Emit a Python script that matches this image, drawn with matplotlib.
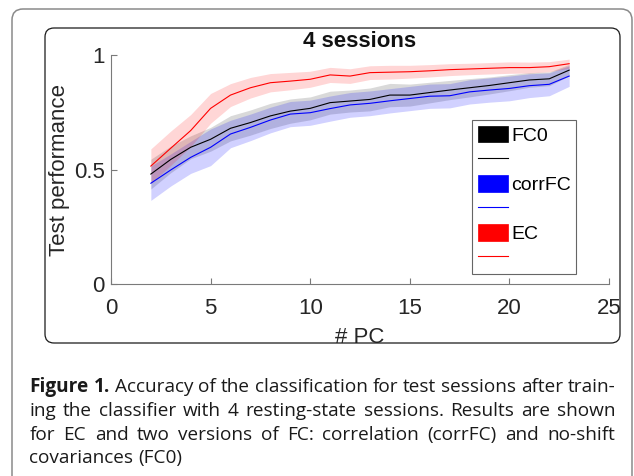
import numpy as np
import matplotlib
matplotlib.use('Agg')
import matplotlib.pyplot as plt
from matplotlib.patches import FancyBboxPatch, Patch
from matplotlib.lines import Line2D
from matplotlib.transforms import IdentityTransform, Bbox

W, H = 634, 476

# number of principal components
pcs = [2, 3, 4, 5, 6, 7, 8, 9, 10, 11, 12, 13, 14, 15, 16, 17, 18, 19, 20, 21, 22, 23]

fc0_mean = [0.480, 0.544, 0.597, 0.632, 0.680, 0.705, 0.734, 0.755, 0.767, 0.792, 0.799,
            0.806, 0.825, 0.825, 0.836, 0.847, 0.857, 0.867, 0.879, 0.891, 0.896, 0.934]
fc0_err = [0.065, 0.058, 0.050, 0.052, 0.055, 0.055, 0.055, 0.053, 0.050, 0.050, 0.048,
           0.050, 0.051, 0.048, 0.045, 0.042, 0.040, 0.037, 0.035, 0.032, 0.030, 0.025]

corr_mean = [0.440, 0.498, 0.553, 0.597, 0.655, 0.684, 0.716, 0.742, 0.748, 0.766, 0.782,
             0.789, 0.800, 0.810, 0.820, 0.822, 0.839, 0.847, 0.854, 0.866, 0.872, 0.908]
corr_err = [0.075, 0.070, 0.070, 0.080, 0.060, 0.058, 0.056, 0.055, 0.055, 0.055, 0.054,
            0.054, 0.053, 0.053, 0.053, 0.053, 0.053, 0.053, 0.054, 0.052, 0.050, 0.045]

ec_mean = [0.515, 0.593, 0.670, 0.767, 0.825, 0.857, 0.879, 0.886, 0.894, 0.913, 0.908,
           0.923, 0.925, 0.927, 0.931, 0.936, 0.939, 0.942, 0.945, 0.945, 0.949, 0.962]
ec_err = [0.075, 0.075, 0.070, 0.065, 0.050, 0.045, 0.040, 0.038, 0.035, 0.033, 0.032,
          0.030, 0.030, 0.028, 0.027, 0.026, 0.025, 0.025, 0.025, 0.024, 0.022, 0.020]

series = [('FC0', fc0_mean, fc0_err, 'k', 0.15),
          ('corrFC', corr_mean, corr_err, 'b', 0.18),
          ('EC', ec_mean, ec_err, 'r', 0.16)]

xticks = [0, 5, 10, 15, 20, 25]
yticks = [0, 0.5, 1]
yticklabels = ['0', '0.5', '1']

cap_bold = 'Figure 1.'
cap_lines = ['Accuracy of the classification for test sessions after train-',
             'ing the classifier with 4 resting-state sessions. Results are shown',
             'for EC and two versions of FC: correlation (corrFC) and no-shift',
             'covariances (FC0)']
cap_font = 'Open Sans'

fig = plt.figure(figsize=(W / 100., H / 100.), dpi=100)


def rbox(x0, y0, x1, y1, r, **kw):
    # pixel coords, origin top left
    p = FancyBboxPatch((x0, H - y1), x1 - x0, y1 - y0,
                       boxstyle='round,pad=0,rounding_size=%g' % r,
                       transform=IdentityTransform(), fill=False, **kw)
    fig.add_artist(p)
    return p


rbox(12, 9, 632, 490, 11, edgecolor='#8a8a8a', linewidth=1.1)
rbox(45, 28, 620, 343, 9, edgecolor='#1a1a1a', linewidth=0.9)

ax = fig.add_axes([111. / W, 1 - 284. / H, 498. / W, 229. / H])

x = np.array(pcs)
for name, m, e, c, a in series:
    m = np.array(m)
    e = np.array(e)
    ax.fill_between(x, m - e, m + e, color=c, alpha=a, linewidth=0)
for name, m, e, c, a in series:
    ax.plot(x, m, color=c, linewidth=0.8)

ax.set_xlim(0, 25)
ax.set_ylim(0, 1)
ax.set_xticks(xticks)
ax.set_xticklabels([str(t) for t in xticks])
ax.set_yticks(yticks)
ax.set_yticklabels(yticklabels)
ax.spines['top'].set_visible(False)
ax.spines['right'].set_visible(False)
for s in ['left', 'bottom']:
    ax.spines[s].set_color('#7a7a7a')
    ax.spines[s].set_linewidth(0.8)
ax.tick_params(direction='in', length=4, width=0.8, color='#7a7a7a',
               labelsize=16, labelcolor='#262626')
ax.tick_params(axis='x', pad=10)
ax.tick_params(axis='y', pad=4.5)
for t in ax.get_xticklabels() + ax.get_yticklabels():
    t.set_fontfamily('Liberation Sans')

ax.set_title('4 sessions', fontsize=16, fontweight='bold', family='Liberation Sans',
             color='#111111', pad=6)
ax.set_xlabel('# PC', fontsize=16, family='Liberation Sans', color='#262626', labelpad=5.5)
ax.set_ylabel('Test performance', fontsize=16, family='Liberation Sans', color='#262626',
              labelpad=2.5)
ax.xaxis.label.set_clip_box(Bbox.from_extents(45, H - 343, 620, H - 28))

handles = []
labels = []
for name, m, e, c, a in series:
    handles.append(Patch(facecolor=c, edgecolor=c, linewidth=0.5))
    labels.append(name)
    handles.append(Line2D([], [], color=c, linewidth=0.8))
    labels.append('')
leg = ax.legend(handles, labels, loc='upper left',
                bbox_to_anchor=(472. / W, 1 - 120. / H), bbox_transform=fig.transFigure,
                borderaxespad=0, prop={'family': 'Liberation Sans', 'size': 14},
                handlelength=1.55, handleheight=0.93, handletextpad=0.15,
                labelspacing=0.29, borderpad=0.3, fancybox=False, framealpha=1)
leg.get_frame().set_edgecolor('#666666')
leg.get_frame().set_linewidth(0.8)

# caption, justified by hand
renderer = fig.canvas.get_renderer()
cap_left, cap_right = 29.5, 615.5
baselines = [392, 416, 440, 463]


def words_of(i):
    ws = [(w, 'normal') for w in cap_lines[i].split()]
    if i == 0:
        ws = [(w, 'bold') for w in cap_bold.split()] + ws
    return ws


def width(s, size, weight='normal'):
    t = fig.text(0, 0, s, fontsize=size, family=cap_font, fontweight=weight)
    w = t.get_window_extent(renderer).width
    t.remove()
    return w


base = 12.0
sp = width('x x', base) - width('xx', base)
nat = sum(width(w, base, wt) for w, wt in words_of(0)) + sp * (len(words_of(0)) - 1)
size = base * (cap_right - cap_left) / nat
sp = width('x x', size) - width('xx', size)

for i in range(len(cap_lines)):
    ws = words_of(i)
    wd = [width(w, size, wt) for w, wt in ws]
    if i < len(cap_lines) - 1:
        gap = (cap_right - cap_left - sum(wd)) / (len(ws) - 1)
    else:
        gap = sp
    xp = cap_left
    for (w, wt), d in zip(ws, wd):
        fig.text(xp / W, 1 - baselines[i] / float(H), w, fontsize=size, family=cap_font,
                 fontweight=wt, color='#1a1a1a', va='baseline', ha='left')
        xp += d + gap

fig.savefig('out.png', dpi=100)
plt.close()
